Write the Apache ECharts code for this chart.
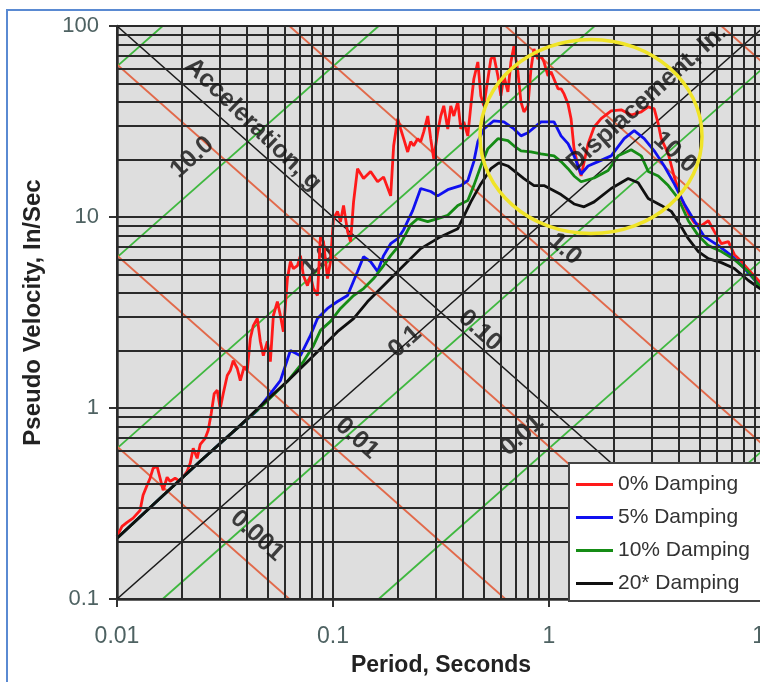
<!DOCTYPE html>
<html>
<head>
<meta charset="utf-8">
<script src="https://cdn.jsdelivr.net/npm/echarts@6/dist/echarts.min.js"></script>
<style>
  html, body { margin: 0; padding: 0; background: #fff; overflow: hidden; width: 760px; height: 682px; }
  #chart { width: 790px; height: 682px; }
</style>
</head>
<body>
<div id="chart"></div>
<script>
// ---------------- DATA ----------------
const seriesNames = ['0% Damping', '5% Damping', '10% Damping', '20* Damping'];

const redT = [0.0100,0.01055,0.01113,0.01187,0.01279,0.01320,0.01378,0.01423,0.01469,0.01533,0.01583,0.01635,0.01706,0.01762,0.01858,0.01960,0.02113,0.02182,0.02253,0.02351,0.02428,0.02561,0.02644,0.02731,0.02819,0.02911,0.03006,0.03104,0.03239,0.03344,0.03453,0.03604,0.03722,0.03885,0.04010,0.04142,0.04276,0.04464,0.04609,0.04759,0.04967,0.05129,0.05296,0.05527,0.05706,0.05893,0.06151,0.06351,0.06557,0.06845,0.07067,0.07297,0.07616,0.07864,0.08120,0.08475,0.08750,0.09035,0.09430,0.09737,0.1005,0.1049,0.1083,0.1119,0.1168,0.1206,0.1245,0.1299,0.1385,0.1493,0.1609,0.1715,0.1849,0.1909,0.1993,0.2057,0.2124,0.2217,0.2289,0.2363,0.2466,0.2547,0.2630,0.2745,0.2834,0.2927,0.3054,0.3154,0.3257,0.3399,0.3509,0.3625,0.3783,0.3905,0.4033,0.4208,0.4346,0.4487,0.4683,0.4836,0.4994,0.5212,0.5381,0.5556,0.5799,0.5987,0.6183,0.6453,0.6663,0.6880,0.7180,0.7416,0.7656,0.7991,0.8251,0.8520,0.8892,0.9181,0.9480,0.9894,1.022,1.055,1.101,1.137,1.174,1.225,1.265,1.306,1.363,1.408,1.517,1.618,1.743,1.940,2.158,2.402,2.673,2.880,3.070,3.205,3.309,3.566,3.802,4.097,4.416,4.709,5.075,5.468,5.830,6.282,6.770,7.220,7.780,8.383,9.63,10.0];
const redV = [0.213,0.240,0.252,0.265,0.291,0.349,0.394,0.429,0.483,0.495,0.429,0.371,0.434,0.413,0.429,0.413,0.466,0.513,0.615,0.545,0.645,0.694,0.764,0.937,1.19,1.24,0.995,1.19,1.48,1.57,1.77,1.61,1.39,1.65,1.57,2.31,2.70,2.94,2.23,1.88,2.23,1.75,3.05,3.61,3.05,2.51,4.76,5.84,5.37,5.57,6.28,4.93,4.37,4.93,4.22,3.88,7.99,7.43,4.76,5.84,9.80,10.7,9.45,11.5,8.38,7.43,12.0,17.9,15.9,17.3,15.3,16.2,12.9,23.6,32.7,28.9,25.7,21.9,24.8,23.6,25.7,24.8,27.9,33.8,25.7,20.2,27.9,33.8,38.2,28.9,38.2,33.8,40.1,28.9,31.5,26.6,38.2,52.8,64.8,43.1,38.2,52.8,67.2,69.7,54.8,43.1,54.8,45.2,64.8,78.6,57.5,40.1,35.5,38.2,59.6,75.8,67.2,69.7,64.8,54.8,57.5,52.8,46.9,46.9,44.1,39.1,32.7,22.8,18.5,16.4,24.2,29.6,32.7,35.9,36.4,34.2,35.5,37.7,36.8,30.7,25.7,21.4,16.2,12.5,10.4,9.34,9.01,9.56,8.38,7.25,7.43,6.35,5.84,5.30,4.48,4.35];

const blueT = [0.0100,0.01583,0.02428,0.03722,0.04464,0.05129,0.05706,0.06351,0.07067,0.07864,0.08475,0.09430,0.1049,0.1168,0.1299,0.1385,0.1493,0.1609,0.1715,0.1849,0.1993,0.2124,0.2338,0.2547,0.2834,0.3054,0.3399,0.3905,0.4208,0.4487,0.4683,0.4994,0.5556,0.6183,0.6880,0.7416,0.7991,0.9181,1.055,1.137,1.225,1.306,1.408,1.517,1.688,1.940,2.228,2.480,2.759,3.070,3.417,3.802,4.231,4.709,5.240,6.084,6.99,8.035,9.63,10.0];
const blueV = [0.208,0.337,0.526,0.811,0.972,1.19,1.39,2.00,1.88,2.40,2.94,3.32,3.61,3.88,5.18,6.20,5.84,5.18,6.28,7.25,7.70,8.58,10.8,14.1,13.6,12.9,13.9,14.6,15.5,19.5,24.8,28.9,31.9,31.5,28.9,26.6,27.6,31.5,31.5,26.6,24.2,20.9,16.8,18.5,19.5,20.9,25.7,28.3,25.7,22.2,18.5,14.9,11.7,9.56,7.89,7.08,6.28,5.37,4.27,4.15];

const greenT = [0.0100,0.01583,0.02428,0.03722,0.04759,0.06151,0.07297,0.08120,0.08750,0.09737,0.1083,0.1245,0.1385,0.1541,0.1715,0.1849,0.2057,0.2289,0.2466,0.2745,0.3054,0.3399,0.3783,0.4208,0.4487,0.4836,0.5212,0.5799,0.6453,0.6880,0.7416,0.8251,0.9181,1.055,1.137,1.225,1.306,1.408,1.618,1.878,2.090,2.402,2.673,2.880,3.205,3.566,3.968,4.416,4.913,5.468,6.282,7.220,8.383,9.63,10.0];
const greenV = [0.208,0.337,0.526,0.811,1.04,1.38,1.75,2.12,2.55,2.84,3.32,3.88,4.22,4.76,5.57,6.28,7.25,9.11,9.80,9.45,9.80,10.2,11.5,12.2,14.6,18.5,22.8,25.7,25.1,23.6,22.2,21.9,21.4,20.9,19.5,17.9,16.4,15.3,16.0,17.5,20.9,22.5,20.9,17.3,16.4,14.6,12.5,9.56,7.99,7.08,6.59,5.98,5.18,4.22,4.10];

const blackT = [0.0100,0.01583,0.02428,0.03722,0.04759,0.06151,0.08120,0.1049,0.1245,0.1446,0.1790,0.2124,0.2547,0.3154,0.3783,0.4346,0.4836,0.5381,0.586,0.6453,0.7656,0.8520,0.9480,1.137,1.306,1.453,1.618,1.940,2.326,2.588,2.880,3.309,3.682,3.968,4.416,4.913,5.468,6.282,7.220,8.383,9.63,10.0];
const blackV = [0.208,0.337,0.526,0.811,1.06,1.38,1.88,2.51,2.94,3.61,4.59,5.57,6.83,7.89,8.69,12.0,14.9,17.9,19.2,18.5,15.9,14.6,14.6,13.1,11.7,11.3,12.0,14.1,15.9,15.1,12.5,11.5,10.7,9.45,7.70,6.59,6.05,5.77,5.37,4.65,4.17,4.05];

// axis ticks / grid lines
const xTickValues = [0.01, 0.1, 1, 10];
const xTickLabels = ['0.01', '0.1', '1', '10'];
const yTickValues = [0.1, 1, 10, 100];
const yTickLabels = ['0.1', '1', '10', '100'];
const gridT = [0.01,0.02,0.03,0.04,0.05,0.06,0.07,0.08,0.09,0.1,0.2,0.3,0.4,0.5,0.6,0.7,0.8,0.9,1,2,3,4,5,6,7,8,9,10];
const gridV = [0.1,0.2,0.3,0.4,0.5,0.6,0.7,0.8,0.9,1,2,3,4,5,6,7,8,9,10,20,30,40,50,60,70,80,90,100];

// tripartite levels
const accelLevels = [0.001, 0.01, 0.1, 1, 10, 100];   // g
const dispLevels  = [0.001, 0.01, 0.1, 1, 10, 100];   // in.
const gravity = 386.1;                                // in/s^2
const accelAxisLine = [[0.01, 100], [10, 0.1]];
const dispAxisLine  = [[0.01, 0.1], [10, 100]];

// tripartite labels (data coordinates: period, velocity)
const accelLabelText = ['10.0', '1.0', '0.1', '0.01'];
const accelLabelT = [0.0223, 0.0852, 0.2154, 0.750];
const accelLabelV = [20.5, 5.88, 2.225, 0.72];
const dispLabelText = ['0.001', '0.01', '0.10', '1.0', '10.0'];
const dispLabelT = [0.0445, 0.129, 0.479, 1.186, 3.83];
const dispLabelV = [0.214, 0.694, 2.54, 6.79, 21.8];
const accelTitle = { text: 'Acceleration, g', t: 0.0426, v: 30.5 };
const dispTitle  = { text: 'Displacement, In.', t: 2.84, v: 42.1 };
const circleCenter = [1.565, 26.4];

// ---------------- CHART ----------------
const FONT = "'Liberation Sans', Arial, Helvetica, sans-serif";
const XMIN = 0.01, XMAX = 10, YMIN = 0.1, YMAX = 100;

function zip(a, b) { return a.map((v, i) => [v, b[i]]); }
function lookup(vals, labels, v) {
  for (let i = 0; i < vals.length; i++) {
    if (Math.abs(Math.log10(v) - Math.log10(vals[i])) < 1e-6) return labels[i];
  }
  return '';
}
function accelSeg(A) {
  const c = A * gravity / (2 * Math.PI);
  const t0 = Math.max(XMIN, YMIN / c), t1 = Math.min(XMAX, YMAX / c);
  return t0 < t1 ? { coords: [[t0, c * t0], [t1, c * t1]] } : null;
}
function dispSeg(D) {
  const c = 2 * Math.PI * D;
  const t0 = Math.max(XMIN, c / YMAX), t1 = Math.min(XMAX, c / YMIN);
  return t0 < t1 ? { coords: [[t0, c / t0], [t1, c / t1]] } : null;
}

const chart = echarts.init(document.getElementById('chart'), null, { renderer: 'canvas' });

const labelBase = { show: true, position: 'inside', fontFamily: FONT, fontWeight: 'bold', color: '#111', fontSize: 25 };

const option = {
  animation: false,
  backgroundColor: '#ffffff',
  grid: { left: 117, top: 26, right: 25, bottom: 80.5, show: true, backgroundColor: '#dedede', borderWidth: 0 },
  legend: {
    data: seriesNames,
    orient: 'vertical',
    left: 569, top: 463, z: 20,
    icon: 'rect', itemWidth: 37, itemHeight: 3, itemGap: 10,
    padding: [10, 60, 6, 7],
    backgroundColor: '#ffffff', borderColor: '#444', borderWidth: 2,
    selectedMode: false,
    textStyle: { fontFamily: FONT, fontSize: 21, color: '#333', lineHeight: 23 }
  },
  xAxis: {
    type: 'log', logBase: 10, min: XMIN, max: XMAX,
    name: 'Period, Seconds', nameLocation: 'middle', nameGap: 55,
    nameTextStyle: { fontFamily: FONT, fontSize: 23, fontWeight: 'bold', color: '#222' },
    axisLine: { show: true, onZero: false, lineStyle: { color: '#333', width: 2.5 } },
    axisTick: { show: true, length: 8, lineStyle: { color: '#333', width: 2 } },
    axisLabel: { fontFamily: FONT, fontSize: 23, color: '#4e6262', margin: 26,
      formatter: v => lookup(xTickValues, xTickLabels, v) },
    splitLine: { show: false }, minorTick: { show: false }
  },
  yAxis: {
    type: 'log', logBase: 10, min: YMIN, max: YMAX,
    name: 'Pseudo Velocity, In/Sec', nameLocation: 'middle', nameGap: 72,
    nameTextStyle: { fontFamily: FONT, fontSize: 24, fontWeight: 'bold', color: '#222' },
    axisLine: { show: true, onZero: false, lineStyle: { color: '#333', width: 2.5 } },
    axisTick: { show: true, length: 8, lineStyle: { color: '#333', width: 2 } },
    axisLabel: { fontFamily: FONT, fontSize: 22, color: '#4e6262', margin: 18,
      formatter: v => lookup(yTickValues, yTickLabels, v) },
    splitLine: { show: false }, minorTick: { show: false }
  },
  series: [
    {
      name: 'gridlines', type: 'line', data: [], z: 1, silent: true,
      markLine: {
        silent: true, symbol: ['none', 'none'], label: { show: false },
        lineStyle: { color: '#2a2a2a', width: 2, type: 'solid' },
        emphasis: { disabled: true },
        data: gridT.map(v => ({ xAxis: v })).concat(gridV.map(v => ({ yAxis: v })))
      }
    },
    {
      name: 'accelLines', type: 'lines', coordinateSystem: 'cartesian2d', z: 2, silent: true,
      lineStyle: { color: '#3fb83f', width: 1.8, opacity: 1 },
      data: accelLevels.map(accelSeg).filter(Boolean)
    },
    {
      name: 'dispLines', type: 'lines', coordinateSystem: 'cartesian2d', z: 2, silent: true,
      lineStyle: { color: '#e2694a', width: 1.8, opacity: 1 },
      data: dispLevels.map(dispSeg).filter(Boolean)
    },
    {
      name: 'axisLines', type: 'lines', coordinateSystem: 'cartesian2d', z: 2, silent: true,
      lineStyle: { color: '#1a1a1a', width: 1.6, opacity: 1 },
      data: [{ coords: accelAxisLine }, { coords: dispAxisLine }]
    },
    {
      name: 'accelLabels', type: 'scatter', z: 3, silent: true, symbolSize: 1,
      itemStyle: { color: 'transparent' },
      data: accelLabelText.map((t, i) => ({
        value: [accelLabelT[i], accelLabelV[i]],
        label: Object.assign({}, labelBase, { formatter: t, rotate: 42 })
      }))
    },
    { name: seriesNames[0], type: 'line', color: '#ff1a1a', showSymbol: false, symbol: 'none', z: 4,
      lineStyle: { width: 2.8, color: '#ff1a1a' }, data: zip(redT, redV) },
    { name: seriesNames[1], type: 'line', color: '#1010f0', showSymbol: false, symbol: 'none', z: 4,
      lineStyle: { width: 2.8, color: '#1010f0' }, data: zip(blueT, blueV) },
    { name: seriesNames[2], type: 'line', color: '#158c15', showSymbol: false, symbol: 'none', z: 4,
      lineStyle: { width: 2.8, color: '#158c15' }, data: zip(greenT, greenV) },
    { name: seriesNames[3], type: 'line', color: '#101010', showSymbol: false, symbol: 'none', z: 4,
      lineStyle: { width: 2.8, color: '#101010' }, data: zip(blackT, blackV) },
    {
      name: 'dispLabels', type: 'scatter', z: 6, silent: true, symbolSize: 1,
      itemStyle: { color: 'transparent' },
      data: dispLabelText.map((t, i) => ({
        value: [dispLabelT[i], dispLabelV[i]],
        label: Object.assign({}, labelBase, { formatter: t, rotate: -42 })
      })).concat([
        { value: [accelTitle.t, accelTitle.v], label: Object.assign({}, labelBase, { formatter: accelTitle.text, rotate: -44 }) },
        { value: [dispTitle.t, dispTitle.v], label: Object.assign({}, labelBase, { formatter: dispTitle.text, rotate: 42 }) }
      ])
    }
  ]
};
chart.setOption(option);

const cpx = chart.convertToPixel({ gridIndex: 0 }, circleCenter);
chart.setOption({
  graphic: [
    { type: 'rect', z: -10, silent: true, shape: { x: 7, y: 10, width: 900, height: 900 },
      style: { fill: 'none', stroke: '#5a8ad2', lineWidth: 2 } },
    { type: 'ellipse', z: 100, silent: true, shape: { cx: cpx[0], cy: cpx[1], rx: 111, ry: 97 },
      style: { fill: 'none', stroke: '#f0e428', lineWidth: 3.5 } }
  ]
});
</script>
</body>
</html>
